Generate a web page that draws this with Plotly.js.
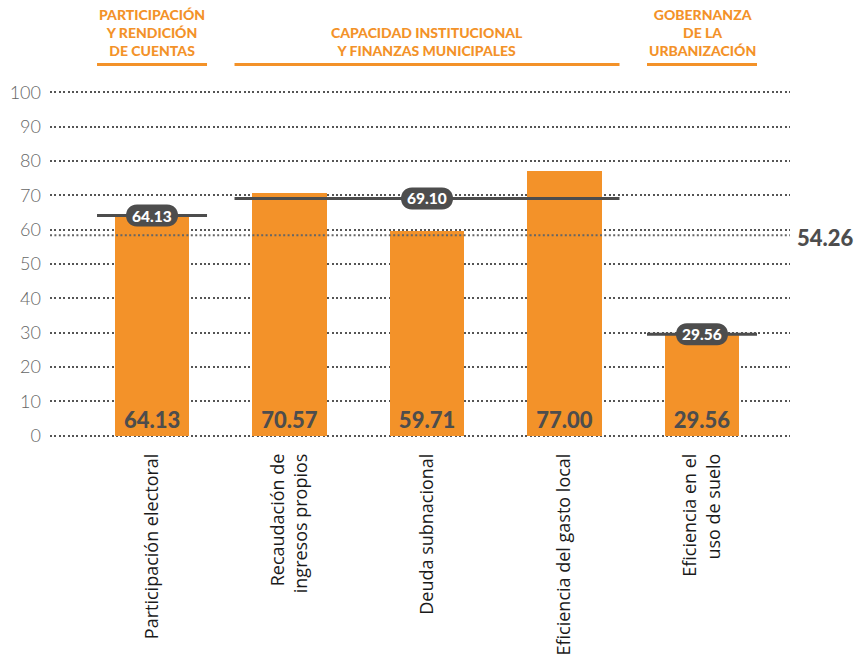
<!DOCTYPE html>
<html>
<head>
<meta charset="utf-8">
<script src="https://cdn.plot.ly/plotly-3.0.1.min.js"></script>
<style>html,body{margin:0;padding:0;background:#fff;}#chart{width:860px;height:658px;}</style>
</head>
<body>
<div id="chart"></div>
<script>
// ---- data ----
const categories = ['Participación electoral', 'Recaudación de<br>ingresos propios', 'Deuda subnacional', 'Eficiencia del gasto local', 'Eficiencia en el<br>uso de suelo'];
const values = [64.13, 70.57, 59.71, 77.00, 29.56];
const groupTitles = ['PARTICIPACIÓN<br>Y RENDICIÓN<br>DE CUENTAS', 'CAPACIDAD INSTITUCIONAL<br>Y FINANZAS MUNICIPALES', 'GOBERNANZA<br>DE LA<br>URBANIZACIÓN'];
const groupFirst = [0, 1, 4];
const groupLast = [0, 3, 4];
const groupAverages = [64.13, 69.10, 29.56];
const overallAverage = 54.26;
const overallLineLevel = 58.4;
const yTicks = [0, 10, 20, 30, 40, 50, 60, 70, 80, 90, 100];

// ---- style ----
const ORANGE = '#F39229';
const DARK = '#4D4D4D';
const FONT = 'Lato, "Open Sans", sans-serif';
const xIdx = categories.map((c, i) => i);

// plot area: y=0 at 436px, y=100 at 92px; range padded by 1 unit each side
const PX = 3.44;
const Y_MIN = -1, Y_MAX = 101;
const plotTop = 92 - (Y_MAX - 100) * PX;
const plotBottom = 436 + (0 - Y_MIN) * PX;
const plotH = plotBottom - plotTop;
const toPaperY = py => (plotBottom - py) / plotH;

const bar = {
  type: 'bar', x: xIdx, y: values, width: 0.54,
  marker: {color: ORANGE},
  text: values.map(v => v.toFixed(2)),
  textposition: 'inside', insidetextanchor: 'start', textangle: 0,
  insidetextfont: {family: FONT, size: 22, color: DARK, weight: 900},
  hoverinfo: 'skip', cliponaxis: false
};

const shapes = [];
const annotations = [];
const HEADER_Y = toPaperY(64);
const pillPath = 'M -15 -11 L 15 -11 C 29.7 -11 29.7 11 15 11 L -15 11 C -29.7 11 -29.7 -11 -15 -11 Z';

groupTitles.forEach((t, g) => {
  const x0 = groupFirst[g] - 0.4, x1 = groupLast[g] + 0.4;
  const cx = (groupFirst[g] + groupLast[g]) / 2;
  shapes.push({type: 'line', xref: 'x', yref: 'paper', x0: x0, x1: x1, y0: HEADER_Y, y1: HEADER_Y,
    line: {color: ORANGE, width: 3}});
  shapes.push({type: 'line', xref: 'x', yref: 'y', x0: x0, x1: x1, y0: groupAverages[g], y1: groupAverages[g],
    line: {color: DARK, width: 3}, layer: 'above'});
  shapes.push({type: 'path', xref: 'x', yref: 'y', xsizemode: 'pixel', ysizemode: 'pixel',
    xanchor: cx, yanchor: groupAverages[g], path: pillPath,
    fillcolor: DARK, line: {width: 0}, layer: 'above'});
  annotations.push({xref: 'x', yref: 'y', x: cx, y: groupAverages[g], text: groupAverages[g].toFixed(2),
    showarrow: false, font: {family: FONT, size: 15.5, color: '#FFFFFF', weight: 900}});
  annotations.push({xref: 'x', yref: 'paper', x: cx, y: toPaperY(60), yanchor: 'bottom',
    text: t, showarrow: false, align: 'center',
    font: {family: FONT, size: 14, color: ORANGE, weight: 900}});
});

shapes.push({type: 'line', xref: 'paper', yref: 'y', x0: 0, x1: 1, y0: overallLineLevel, y1: overallLineLevel,
  line: {color: '#666666', width: 2, dash: '2px,2.4px'}, layer: 'above'});
annotations.push({xref: 'paper', yref: 'y', x: (856 - 50) / 740, xanchor: 'right', y: overallLineLevel - 0.6,
  text: overallAverage.toFixed(2), showarrow: false,
  font: {family: FONT, size: 22, color: DARK, weight: 900}});

const layout = {
  width: 860, height: 658,
  margin: {l: 50, r: 70, t: plotTop, b: 658 - plotBottom, pad: 0},
  paper_bgcolor: '#FFFFFF', plot_bgcolor: '#FFFFFF',
  showlegend: false,
  bargap: 0,
  xaxis: {
    range: [-0.742, 4.64], tickvals: xIdx, ticktext: categories,
    tickangle: -90, showgrid: false, zeroline: false, showline: false, ticks: '',
    ticklabelstandoff: 10,
    tickfont: {family: '"Open Sans", sans-serif', size: 18, color: '#1A1A1A'}
  },
  yaxis: {
    range: [Y_MIN, Y_MAX], tickvals: yTicks, ticktext: yTicks.map(String),
    showgrid: true, gridcolor: '#555555', gridwidth: 2, griddash: '2px,2.4px',
    zeroline: false, showline: false, ticks: '', ticklabelstandoff: 8,
    tickfont: {family: FONT, size: 18, color: '#666666', weight: 300}
  },
  shapes: shapes,
  annotations: annotations
};

Plotly.newPlot('chart', [bar], layout, {displayModeBar: false, staticPlot: true});
</script>
</body>
</html>
